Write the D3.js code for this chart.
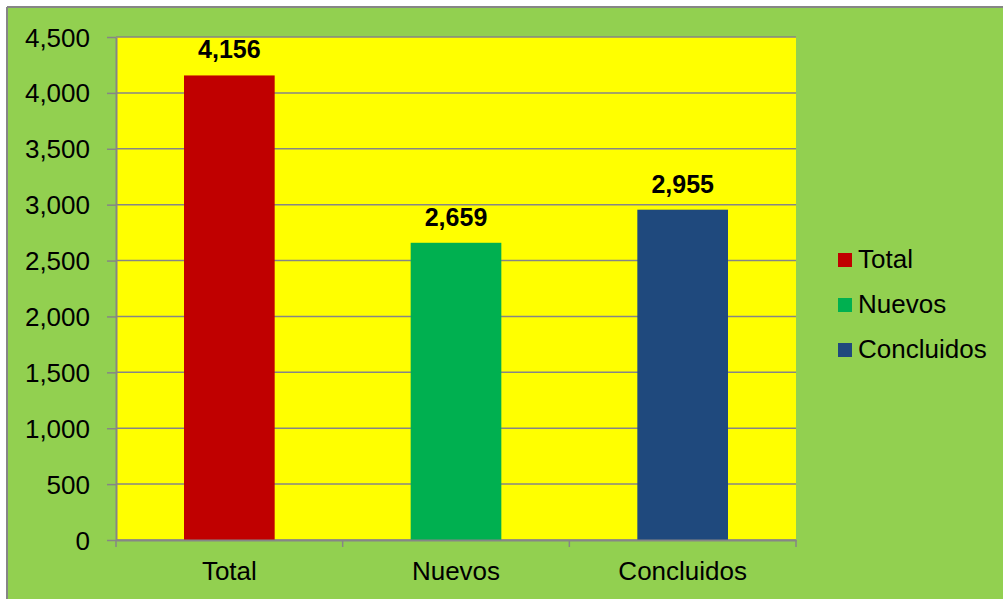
<!DOCTYPE html>
<html>
<head>
<meta charset="utf-8">
<script src="https://cdn.jsdelivr.net/npm/d3@7"></script>
<style>
  body { margin: 0; background: #fff; }
  text { font-family: Arial, "Liberation Sans", sans-serif; }
</style>
</head>
<body>
<div id="chart"></div>
<script>
// data
const categories = ["Total", "Nuevos", "Concluidos"];
const values = [4156, 2659, 2955];
const colors = ["#C00000", "#00B050", "#1F497D"];
const yTicks = [0, 500, 1000, 1500, 2000, 2500, 3000, 3500, 4000, 4500];

const W = 1003, H = 599;
const margin = { top: 37, right: 207, bottom: 59, left: 116 };
const width = W - margin.left - margin.right,
    height = H - margin.top - margin.bottom;

const svg = d3.select("#chart").append("svg")
    .attr("width", W)
    .attr("height", H);

// outer frame
svg.append("rect")
    .attr("x", 8).attr("y", 8)
    .attr("width", W).attr("height", H)
    .attr("fill", "#92D050");
svg.append("line").attr("x1", 7).attr("x2", 7).attr("y1", 7).attr("y2", H)
    .attr("stroke", "#868686").attr("stroke-width", 2);
svg.append("line").attr("x1", 7).attr("x2", W).attr("y1", 7).attr("y2", 7)
    .attr("stroke", "#868686").attr("stroke-width", 2);

const chart = svg.append("g")
    .attr("transform", `translate(${margin.left},${margin.top})`);

// plot area
chart.append("rect")
    .attr("width", width).attr("height", height)
    .attr("fill", "#FFFF00");

const x = d3.scaleBand()
    .domain(categories)
    .range([0, width])
    .paddingInner(0.6)
    .paddingOuter(0.3);

const y = d3.scaleLinear()
    .domain([0, 4500])
    .range([height, 0]);

// gridlines
chart.selectAll("line.grid")
    .data(yTicks)
    .enter().append("line")
    .attr("class", "grid")
    .attr("x1", 0).attr("x2", width)
    .attr("y1", d => y(d)).attr("y2", d => y(d))
    .attr("stroke", "#868686")
    .attr("stroke-width", 1.5);

// bars
chart.selectAll("rect.bar")
    .data(values)
    .enter().append("rect")
    .attr("class", "bar")
    .attr("x", (d, i) => x(categories[i]))
    .attr("y", d => y(d))
    .attr("width", x.bandwidth())
    .attr("height", d => height - y(d))
    .attr("fill", (d, i) => colors[i]);

// value labels
chart.selectAll("text.val")
    .data(values)
    .enter().append("text")
    .attr("class", "val")
    .attr("x", (d, i) => x(categories[i]) + x.bandwidth() / 2)
    .attr("y", d => y(d) - 17)
    .attr("text-anchor", "middle")
    .attr("font-size", "25px")
    .attr("font-weight", "bold")
    .text(d => d3.format(",")(d));

// y axis
const yAxis = chart.append("g")
    .call(d3.axisLeft(y).tickValues(yTicks).tickFormat(d3.format(",")).tickSize(9).tickSizeOuter(0));
yAxis.select(".domain").attr("stroke", "#868686").attr("stroke-width", 2);
yAxis.selectAll(".tick line").attr("stroke", "#868686").attr("stroke-width", 1.5);
yAxis.selectAll(".tick text")
    .attr("x", -26)
    .attr("dy", "0.35em")
    .attr("font-size", "26px")
    .attr("fill", "#000");

// x axis
const xAxis = chart.append("g")
    .attr("transform", `translate(0,${height})`)
    .call(d3.axisBottom(x).tickSize(0).tickSizeOuter(0));
xAxis.select(".domain").attr("stroke", "#868686").attr("stroke-width", 2);
xAxis.selectAll(".tick text")
    .attr("y", 40)
    .attr("dy", 0)
    .attr("font-size", "26px")
    .attr("fill", "#000");
// category separators
const step = width / categories.length;
xAxis.selectAll("line.sep")
    .data(d3.range(categories.length + 1))
    .enter().append("line")
    .attr("class", "sep")
    .attr("x1", d => d * step).attr("x2", d => d * step)
    .attr("y1", 0).attr("y2", 7)
    .attr("stroke", "#868686").attr("stroke-width", 1.5);

// legend
const legend = svg.append("g")
    .attr("transform", "translate(838,268)");
const item = legend.selectAll("g")
    .data(categories)
    .enter().append("g")
    .attr("transform", (d, i) => `translate(0,${i * 45})`);
item.append("rect")
    .attr("x", 0).attr("y", -15)
    .attr("width", 14).attr("height", 14)
    .attr("fill", (d, i) => colors[i]);
item.append("text")
    .attr("x", 20)
    .attr("y", 0)
    .attr("font-size", "26px")
    .text(d => d);
</script>
</body>
</html>
